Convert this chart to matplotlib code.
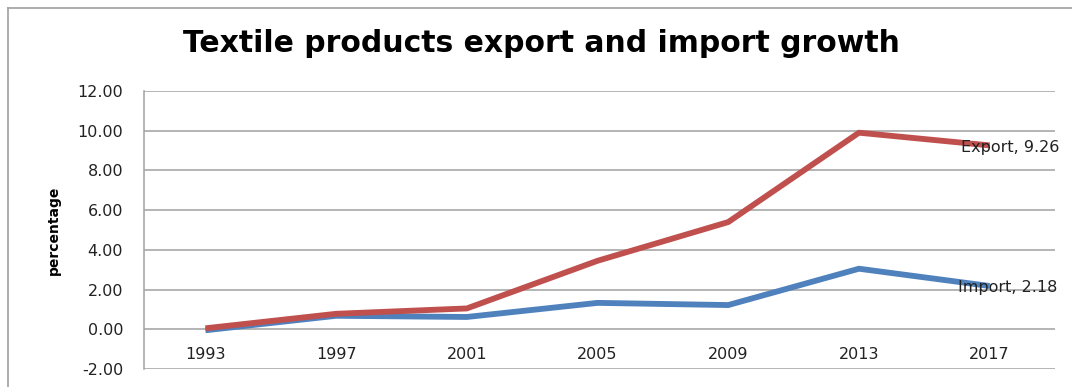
import matplotlib.pyplot as plt
from matplotlib.lines import Line2D

years = ['1993', '1997', '2001', '2005', '2009', '2013', '2017']
export = [0.05, 0.78, 1.05, 3.45, 5.40, 9.90, 9.26]
imports = [-0.05, 0.68, 0.62, 1.33, 1.22, 3.05, 2.18]
yticks = [-2, 0, 2, 4, 6, 8, 10, 12]

fig = plt.figure(figsize=(10.72, 3.87), dpi=100)
ax = fig.add_axes([144 / 1072, 1 - 369 / 387, (1055 - 144) / 1072, (369 - 91) / 387])

# category axis crosses at 0, like the excel original
ax.spines['bottom'].set_position(('data', 0))
ax.spines['bottom'].set_visible(False)
for s in ['top', 'right']:
    ax.spines[s].set_visible(False)
ax.spines['left'].set_color('#a0a0a0')
ax.spines['left'].set_linewidth(1.1)

x = list(range(len(years)))
ax.plot(x, imports, color='#4F81BD', lw=4.2, solid_capstyle='butt', zorder=3)
ax.plot(x, export, color='#C0504D', lw=4.2, solid_capstyle='butt', zorder=4)

ax.set_xlim(-0.47, 6.5)
ax.set_ylim(-2, 12)
ax.set_yticks(yticks)
ax.set_yticklabels([f'{v:.2f}' for v in yticks], fontsize=11.5, color='#222222')
ax.set_xticks(x)
ax.set_xticklabels(years, fontsize=11.5, color='#222222')
ax.tick_params(axis='both', length=0)
ax.tick_params(axis='x', pad=13)
ax.tick_params(axis='y', pad=15)

ax.grid(axis='y', color='#a0a0a0', lw=1.1)
ax.set_axisbelow(True)

ax.annotate(f'Export, {export[-1]:.2f}', (x[-1], export[-1]), xytext=(-29, -2),
            textcoords='offset pixels', va='center', ha='left', fontsize=11.5,
            color='#222222', zorder=5, annotation_clip=False)
ax.annotate(f'Import, {imports[-1]:.2f}', (x[-1], imports[-1]), xytext=(-32, -2),
            textcoords='offset pixels', va='center', ha='left', fontsize=11.5,
            color='#222222', zorder=5, annotation_clip=False)

ax.set_ylabel('percentage', family=['Liberation Sans Narrow', 'DejaVu Sans'],
              fontweight='bold', fontsize=10, labelpad=12)

fig.text(0.505, 1 - 43 / 387, 'Textile products export and import growth',
         ha='center', va='center', fontsize=21.5, fontweight='bold', family='DejaVu Sans')

# outer chart border (cropped on right and bottom)
bx, by = 7.5 / 1072, 1 - 7.5 / 387
fig.lines.append(Line2D([bx, bx], [0, by], transform=fig.transFigure, color='#a0a0a0', lw=1.2))
fig.lines.append(Line2D([bx, 1], [by, by], transform=fig.transFigure, color='#a0a0a0', lw=1.2))

fig.savefig('out.png', dpi=100)
